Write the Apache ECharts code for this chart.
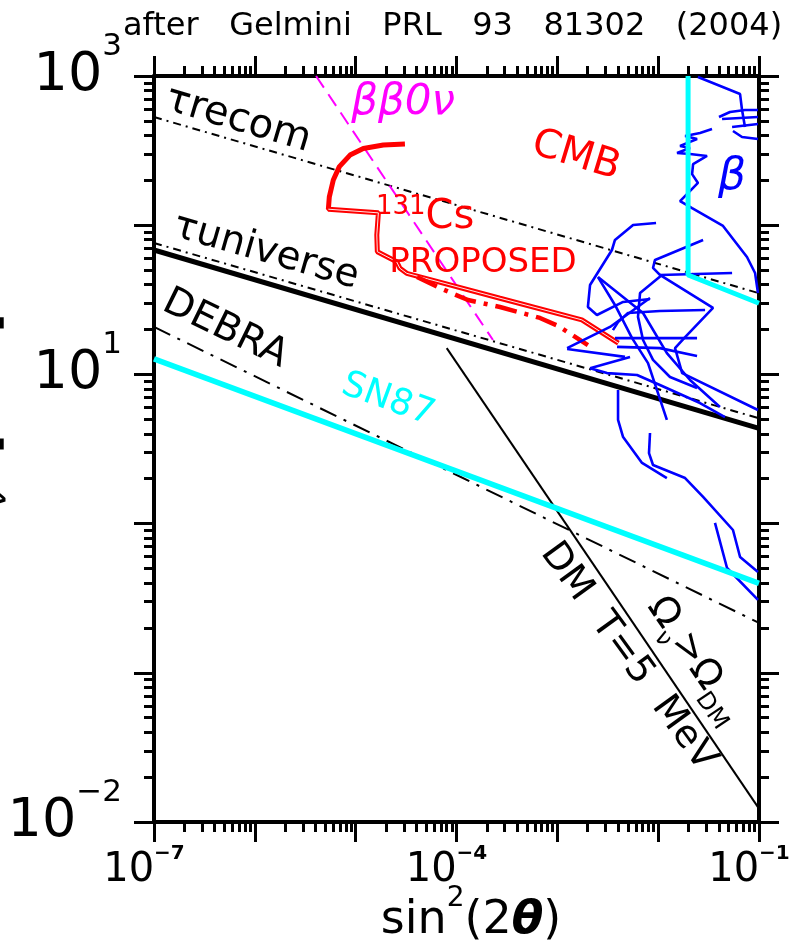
<!DOCTYPE html>
<html>
<head>
<meta charset="utf-8">
<title>sterile neutrino bounds</title>
<script src="https://cdn.jsdelivr.net/npm/echarts@6/dist/echarts.min.js"></script>
<style>
  html, body { margin: 0; padding: 0; background: #fff; }
  #chart { width: 803px; height: 941px; }
</style>
</head>
<body>
<div id="chart"></div>
<script>
const font = 'DejaVu Sans'

// axes
const xMin = 1e-7, xMax = 1e-1
const yMin = 1e-2, yMax = 1e3
const xDecades = [1e-7, 1e-6, 1e-5, 1e-4, 1e-3, 1e-2, 1e-1]
const yDecades = [1e-2, 1e-1, 1, 10, 100, 1000]
const xLabelValues = [1e-7, 1e-4, 1e-1]
const yLabelValues = [1e-2, 1e1, 1e3]

// straight bounds (end points)
const tauRecom = [[1e-7, 531], [1e-1, 35]]
const tauUniverse = [[1e-7, 76], [1e-1, 5.08]]
const tauUniverseThick = [[1e-7, 68.2], [1e-1, 4.35]]
const debra = [[1e-7, 20.8], [1e-1, 0.216]]
const sn87 = [[1e-7, 12.7], [1e-1, 0.398]]
const dmT5 = [[8.0e-5, 15.0], [1e-1, 0.0123]]
const doubleBeta = [[4.05e-6, 1000], [2.30e-4, 17.0]]
const sn87Corner = [[1.98e-2, 1000], [1.98e-2, 46.4], [1e-1, 30.0]]

// CMB
const cmbBound = [[3.08e-5, 350], [1.88e-5, 345], [1.19e-5, 327], [8.79e-6, 295], [6.89e-6, 247],
  [6.00e-6, 201], [5.48e-6, 155], [5.36e-6, 128], [1.68e-5, 121], [1.62e-5, 86.0], [1.64e-5, 66.4],
  [2.55e-5, 56.9], [2.75e-5, 51.4], [3.21e-5, 47.6], [2.70e-4, 32.4], [1.75e-3, 23.2], [4.03e-3, 16.2]]
const cmbProposed = [[4.06e-5, 45.0], [6.85e-5, 37.9], [1.30e-4, 31.5], [2.70e-4, 28.3],
  [6.73e-4, 23.9], [1.02e-3, 21.1], [2.01e-3, 15.7]]

// beta decay traces
const betaTraces = [
  [[2.48e-2, 985], [6.49e-2, 757], [6.79e-2, 592], [7.26e-2, 455]],
  [[4.01e-2, 531], [5.16e-2, 574], [7.26e-2, 592], [9.77e-2, 592]],
  [[4.30e-2, 515], [9.77e-2, 531]],
  [[5.41e-2, 455], [9.77e-2, 477]],
  [[5.52e-2, 428], [6.79e-2, 390], [9.77e-2, 378]],
  [[3.42e-2, 441], [2.60e-2, 415], [1.85e-2, 396], [2.43e-2, 378], [1.65e-2, 340], [2.07e-2, 329],
    [1.54e-2, 305], [2.07e-2, 300], [3.05e-2, 291], [2.22e-2, 257], [2.17e-2, 220], [2.48e-2, 192],
    [2.22e-2, 178], [1.65e-2, 145], [2.17e-2, 130], [4.40e-2, 98.8], [7.60e-2, 61.2], [9.14e-2, 47.8],
    [9.77e-2, 35.1]],
  [[9.53e-3, 103.5], [5.64e-3, 100.3], [3.73e-3, 79.6], [3.48e-3, 68.2], [2.11e-3, 39.7],
    [2.01e-3, 28.3], [2.47e-3, 25.0], [4.49e-3, 30.6], [8.30e-3, 32.0]],
  [[2.53e-3, 44.9], [3.73e-3, 29.2], [5.51e-3, 17.5], [7.93e-3, 11.9], [1.22e-2, 4.95]],
  [[1.09e-2, 46.4], [6.61e-3, 35.1], [6.31e-3, 24.3], [7.08e-3, 17.0], [8.89e-3, 12.5],
    [1.31e-2, 9.61], [2.43e-2, 8.11]],
  [[2.79e-2, 79.6], [9.31e-3, 58.5], [8.89e-3, 51.7], [1.04e-2, 46.4], [3.50e-2, 27.9],
    [1.85e-2, 17.8], [1.47e-2, 15.0], [1.73e-2, 10.2], [9.77e-2, 5.77]],
  [[1.04e-2, 46.4], [5.41e-2, 47.8]],
  [[2.92e-2, 27.0], [1.04e-2, 26.6], [5.02e-3, 25.8], [4.00e-3, 22.4], [3.56e-3, 19.8]],
  [[3.73e-3, 17.5], [2.43e-2, 17.5]],
  [[3.91e-3, 15.3], [1.04e-2, 15.0], [2.43e-2, 13.3]],
  [[1.25e-3, 15.0], [3.33e-3, 20.8], [8.30e-3, 32.5]],
  [[1.25e-3, 14.8], [4.69e-3, 13.1]],
  [[2.11e-3, 11.0], [5.26e-3, 13.1]],
  [[2.11e-3, 11.0], [3.11e-3, 10.2], [6.17e-3, 9.91], [1.04e-2, 8.49], [2.60e-2, 6.43], [4.60e-2, 5.18]],
  [[2.53e-3, 44.9], [7.08e-3, 25.8], [1.22e-2, 13.9], [2.07e-2, 9.17], [4.10e-2, 6.05]],
  [[4.00e-3, 7.86], [4.00e-3, 4.95], [4.49e-3, 3.80], [6.92e-3, 2.55], [1.22e-2, 2.02]],
  [[8.30e-3, 4.05], [8.11e-3, 2.97], [8.89e-3, 2.47], [1.85e-2, 2.02], [2.79e-2, 1.51],
    [5.52e-2, 0.906], [6.49e-2, 0.597], [9.77e-2, 0.474]],
  [[3.66e-2, 1.01], [4.82e-2, 0.504], [9.77e-2, 0.308]]
]

// text on the plot, anchored at data positions (angle: degrees, negative = clockwise)
const plotLabels = [
  { text: 'τrecom', at: [6.81e-7, 507], angle: -16.5, color: '#000', size: 40 },
  { text: 'τuniverse', at: [1.29e-6, 66.1], angle: -16, color: '#000', size: 39 },
  { text: 'DEBRA', at: [5.06e-7, 20.1], angle: -26, color: '#000', size: 39 },
  { text: 'SN87', at: [2.09e-5, 6.73], angle: -20, color: '#00ffff', size: 36 },
  { text: 'ββ0ν', at: [2.95e-5, 659], angle: 0, color: '#ff00ff', size: 42, italic: true },
  { text: 'CMB', at: [1.53e-3, 291], angle: -17, color: '#ff0000', size: 40 },
  { text: '{s|131}{m|Cs}', at: [4.88e-5, 112], angle: 0, color: '#ff0000', size: 40, sup: 26 },
  { text: 'PROPOSED', at: [1.83e-4, 55.8], angle: 0, color: '#ff0000', size: 34 },
  { text: 'β', at: [5.40e-2, 207], angle: 0, color: '#0000ff', size: 44, italic: true },
  { text: 'DM  T=5  MeV', at: [5.02e-3, 0.128], angle: -54, color: '#000', size: 38 },
  { text: '{m|Ω}{d|ν}{m|>Ω}{d|DM}', at: [2.32e-2, 0.122], angle: -56, color: '#000', size: 38, sub: 24 }
]

const minorValues = decades => {
  const out = []
  decades.slice(0, -1).forEach(d => {
    for (let k = 2; k <= 9; k++) out.push(+(d * k).toPrecision(3))
  })
  return out
}
const expText = v => String(Math.round(Math.log10(v))).replace('-', '−')

const chart = echarts.init(document.getElementById('chart'))

function logAxis(isX, position, ticks, tickLen, showLine, label) {
  return {
    type: 'log',
    logBase: 10,
    gridIndex: 0,
    position,
    min: isX ? xMin : yMin,
    max: isX ? xMax : yMax,
    axisLine: { show: showLine, onZero: false, lineStyle: { color: '#000', width: 4 } },
    axisTick: { show: true, inside: false, length: tickLen, customValues: ticks, lineStyle: { color: '#000', width: 3 } },
    axisLabel: label || { show: false },
    splitLine: { show: false },
    minorTick: { show: false },
    minorSplitLine: { show: false }
  }
}

const xLabel = {
  show: true,
  customValues: xLabelValues,
  margin: 29,
  formatter: v => '{b|10}{s|' + expText(v) + '}{p| }',
  rich: {
    b: { fontFamily: font, fontSize: 40, lineHeight: 40, color: '#000' },
    s: { fontFamily: font, fontSize: 20, fontWeight: 'bold', lineHeight: 20, padding: [0, 0, 34, 0], color: '#000' },
    p: { fontFamily: font, fontSize: 20, width: 20 }
  }
}
const yLabel = {
  show: true,
  customValues: yLabelValues,
  margin: 32,
  formatter: v => '{b|10}{s|' + expText(v) + '}',
  rich: {
    b: { fontFamily: font, fontSize: 54, lineHeight: 54, color: '#000' },
    s: { fontFamily: font, fontSize: 31, lineHeight: 31, padding: [0, 0, 58, 0], color: '#000' }
  }
}

const xBottom = logAxis(true, 'bottom', xDecades, 20, true, xLabel)
xBottom.name = '{a|sin}{p|2}{a|(2}{t|θ}{a|)}'
xBottom.nameLocation = 'middle'
xBottom.nameGap = 76
xBottom.nameMoveOverlap = false
xBottom.nameTextStyle = {
  fontFamily: font, fontSize: 46, color: '#000', padding: [0, 0, 0, 29],
  rich: {
    a: { fontFamily: font, fontSize: 46, lineHeight: 46, color: '#000' },
    p: { fontFamily: font, fontSize: 28, lineHeight: 28, padding: [0, 0, 44, 0], color: '#000' },
    t: { fontFamily: font, fontSize: 46, lineHeight: 46, fontWeight: 'bold', fontStyle: 'italic', color: '#000' }
  }
}

const yLeft = logAxis(false, 'left', yDecades, 20, true, yLabel)
yLeft.name = '{m|m}{s|ν}  [keV]'
yLeft.nameLocation = 'middle'
yLeft.nameGap = 144
yLeft.nameMoveOverlap = false
yLeft.nameTextStyle = {
  fontFamily: font, fontSize: 54, color: '#000', padding: [0, 0, 0, 24],
  rich: {
    m: { fontFamily: font, fontSize: 54, lineHeight: 54, color: '#000' },
    s: { fontFamily: font, fontSize: 36, lineHeight: 36, padding: [28, 0, 0, 0], color: '#000' }
  }
}

function line(data, color, width, type, z) {
  return {
    type: 'line',
    xAxisIndex: 0,
    yAxisIndex: 0,
    data,
    symbol: 'none',
    showSymbol: false,
    silent: true,
    z,
    lineStyle: { color, width, type }
  }
}

const series = [
  line(tauRecom, '#000', 2, [8, 5, 2, 5], 2),
  line(tauUniverse, '#000', 2, [8, 5, 2, 5], 2),
  line(tauUniverseThick, '#000', 5, 'solid', 2),
  line(debra, '#000', 2, [18, 8, 3, 8], 2),
  line(dmT5, '#000', 2, 'solid', 2),
  line(doubleBeta, '#ff00ff', 2, [14, 8], 3),
  line(cmbBound, '#ff0000', 5, 'solid', 4),
  line(cmbBound.slice(7), '#ffffff', 0.9, 'solid', 4),
  line(cmbProposed, '#ff0000', 4.5, [22, 8, 4, 8], 4)
]
betaTraces.forEach(tr => series.push(line(tr, '#0000ff', 2.6, 'solid', 5)))
series.push(line(sn87, '#00ffff', 5.5, 'solid', 6))
series.push(line(sn87Corner, '#00ffff', 5, 'solid', 6))

chart.setOption({
  animation: false,
  backgroundColor: '#fff',
  textStyle: { fontFamily: font },
  title: {
    text: 'after   Gelmini   PRL   93   81302   (2004)',
    left: 123,
    top: 10,
    padding: 0,
    textStyle: { fontFamily: font, fontSize: 32, fontWeight: 'normal', lineHeight: 34, color: '#000' }
  },
  grid: { left: 154, right: 44, top: 76, bottom: 119, containLabel: false, outerBoundsMode: 'none' },
  xAxis: [
    xBottom,
    logAxis(true, 'bottom', minorValues(xDecades), 10, false),
    logAxis(true, 'top', xDecades, 20, true),
    logAxis(true, 'top', minorValues(xDecades), 10, false)
  ],
  yAxis: [
    yLeft,
    logAxis(false, 'left', minorValues(yDecades), 10, false),
    logAxis(false, 'right', yDecades, 20, true),
    logAxis(false, 'right', minorValues(yDecades), 10, false)
  ],
  series
})

// place the plot annotations
const graphic = plotLabels.map(l => {
  const p = chart.convertToPixel({ xAxisIndex: 0, yAxisIndex: 0 }, l.at)
  const style = {
    text: l.text,
    fill: l.color,
    fontFamily: font,
    fontSize: l.size,
    fontStyle: l.italic ? 'italic' : 'normal',
    align: 'center',
    verticalAlign: 'middle'
  }
  if (l.sup) {
    style.rich = {
      s: { fontFamily: font, fontSize: l.sup, lineHeight: l.sup, padding: [0, 0, 22, 0], fill: l.color },
      m: { fontFamily: font, fontSize: l.size, lineHeight: l.size, fill: l.color }
    }
  }
  if (l.sub) {
    style.rich = {
      m: { fontFamily: font, fontSize: l.size, lineHeight: l.size, fill: l.color },
      d: { fontFamily: font, fontSize: l.sub, lineHeight: l.sub, padding: [30, 0, 0, 0], fill: l.color }
    }
  }
  return { type: 'text', x: p[0], y: p[1], rotation: l.angle * Math.PI / 180, silent: true, z: 10, style }
})
chart.setOption({ graphic })
</script>
</body>
</html>
